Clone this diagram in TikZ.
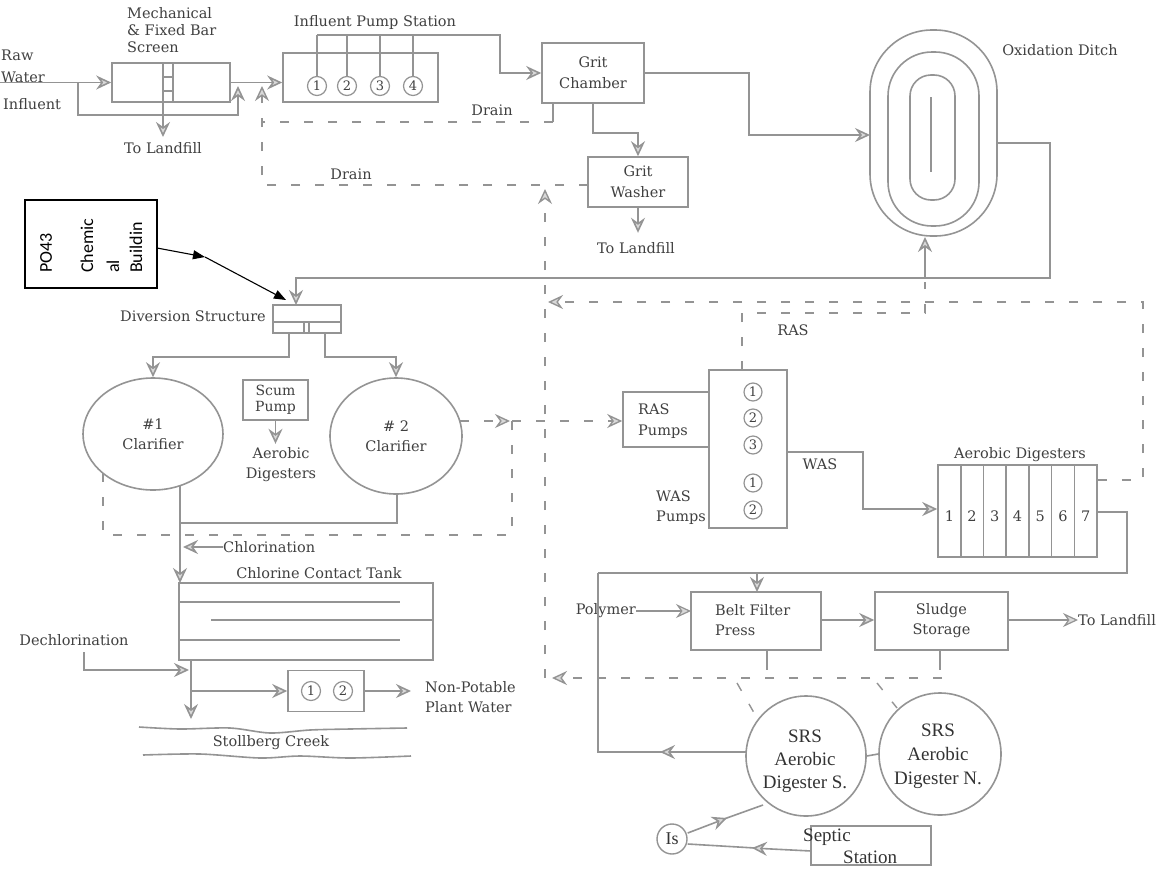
\documentclass[tikz,border=0pt]{standalone}
\usepackage{fontspec}
\setmainfont{DejaVu Serif}
\newfontfamily\srsfont{Liberation Serif}
\newfontfamily\calfont{Carlito}
\usetikzlibrary{arrows.meta,shapes.geometric}
\colorlet{ln}{black!42}
\colorlet{tx}{black!75}
\begin{document}
\begin{tikzpicture}[x=1pt,y=-1pt,
  every node/.style={text=tx, font=\fontsize{14.5}{20}\selectfont, inner sep=0pt},
  box/.style={draw=ln, line width=1.6pt, rectangle, inner sep=0pt},
  pipe/.style={draw=ln, line width=1.6pt},
  dpipe/.style={draw=ln, line width=1.4pt, dash pattern=on 9pt off 15pt},
  arr/.style={-{Stealth[length=15pt,width=14pt,inset=5pt,fill=black!15]}},
  num/.style={draw=ln, line width=1.2pt, circle, minimum size=19pt, inner sep=0pt, font=\fontsize{13}{15}\selectfont},
  srs/.style={font=\srsfont\fontsize{19}{23}\selectfont, text=black!80, align=center},
  potext/.style={rotate=90, anchor=west, text=black, font=\calfont\fontsize{18}{20}\selectfont},
]
\useasboundingbox (0,0) rectangle (1169,878);
\fill[white] (0,0) rectangle (1169,878);

% ---------- Raw water and bar screen ----------
\node[anchor=west] (raw1) at (1,55) {Raw};
\node[anchor=west] (raw2) at (1,77) {Water};
\node[anchor=west] (raw3) at (3,104) {Influent};
\node[box, minimum width=118pt, minimum height=39pt] (bar) at (171,82.5) {};
\draw[pipe] (163,63) -- (163,102) (173,63) -- (173,102) (163,77) -- (173,77) (163,91) -- (173,91);
\node[anchor=west, align=left, font=\fontsize{14.5}{17}\selectfont] (barlbl) at (127,30) {Mechanical\\\& Fixed Bar\\Screen};
\coordinate (rawin) at (-5,82.5);
\draw[pipe,arr] (rawin) -- (bar.west);
\coordinate (bp) at (78,82.5);
\draw[pipe,arr] (bp) -- (78,115) -- (238,115) -- (238,86);
\node (land1) at (163,148) {To Landfill};
\draw[pipe,arr] (bar.south -| 163,0) -- (163,137);

% ---------- Influent pump station ----------
\node[box, minimum width=155pt, minimum height=49pt] (pump) at (360.5,77.5) {};
\node (pumplbl) at (375,22) {Influent Pump Station};
\foreach \i/\x in {1/317,2/347,3/380,4/413}{
  \node[num] (p\i) at (\x,86) {\i};
  \draw[pipe] (p\i.north) -- (\x,35);
}
\draw[pipe,arr] (bar.east) -- (bar.east -| pump.west);

% ---------- Grit chamber / washer ----------
\node[box, minimum width=102pt, minimum height=60pt, align=center, font=\fontsize{14.5}{21}\selectfont] (grit) at (593,73) {Grit\\Chamber};
\draw[pipe,arr] (317,35) -- (500,35) |- (grit.west);
\node[box, minimum width=100pt, minimum height=50pt, align=center, font=\fontsize{14.5}{21}\selectfont] (washer) at (638,182) {Grit\\Washer};
\draw[pipe,arr] (grit.south) -- ++(0,29) -| (washer.north);
\node (land2) at (636,248) {To Landfill};
\draw[pipe,arr] (washer.south) -- ++(0,25);

% drains
\draw[pipe] (553,103) -- (553,122);
\draw[dpipe] (553,122) -- (262,122);
\coordinate (dr2) at (588,185);
\draw[dpipe,arr] (dr2) -- (262,185) -- (262,86);
\node (drain1) at (492,110) {Drain};
\node (drain2) at (351,174) {Drain};

% ---------- Oxidation ditch ----------
\draw[pipe, rounded corners=62pt] (870,30) rectangle (997,236);
\draw[pipe, rounded corners=44pt] (888,52) rectangle (979,226);
\draw[pipe, rounded corners=21pt] (910,75) rectangle (955,200);
\draw[pipe] (931,97) -- (931,172);
\node (ditchlbl) at (1060,50) {Oxidation Ditch};
\coordinate (ditchW) at (870,135);
\draw[pipe,arr] (grit.east) -- (749,73) |- (ditchW);

% ---------- PO43 chemical building ----------
\node[draw=black, line width=1.3pt, minimum width=132pt, minimum height=88pt] (po) at (91,244) {};
\node[potext] at (46,273) {PO43};
\node[potext] at (87,273) {Chemic};
\node[potext] at (113,273) {al};
\node[potext] at (136,273) {Buildin};
\coordinate (pomid) at (205,257);
\coordinate (pofin) at (286,300);
\draw[black, line width=1.1pt, -{Triangle[length=12pt,width=9pt]}] (157,248) -- (pomid);
\draw[black, line width=1.1pt, -{Triangle[length=12pt,width=9pt]}] (pomid) -- (pofin);

% ---------- Diversion structure ----------
\node[box, minimum width=68pt, minimum height=28pt] (div) at (307,319) {};
\draw[pipe] (273,322) -- (341,322) (304,322) -- (304,333) (309,322) -- (309,333);
\node[anchor=east] (divlbl) at (266,316) {Diversion Structure};
\coordinate (divin) at (296,305);
\draw[pipe,arr] (997,143) -- (1050,143) -- (1050,278) -- (296,278) -- (divin);
\draw[pipe,arr] (925,278) -- (925,237);

% clarifiers
\node[draw=ln, line width=1.6pt, ellipse, minimum width=140pt, minimum height=112pt, align=center] (c1) at (153,434) {\#1\\Clarifier};
\node[draw=ln, line width=1.6pt, ellipse, minimum width=132pt, minimum height=116pt, align=center] (c2) at (396,436) {\# 2\\Clarifier};
\draw[pipe,arr] (289,333) -- (289,357) -| (c1.north);
\draw[pipe,arr] (325,333) -- (325,357) -| (c2.north);
\node[box, minimum width=65pt, minimum height=40pt, align=center, font=\fontsize{14}{16}\selectfont] (scum) at (275.5,400) {Scum\\Pump};
\draw[pipe,arr] (scum.south) -- ++(0,23);
\node[align=center] (aerolbl) at (281,465) {Aerobic\\Digesters};

% clarifier effluent & chlorination
\draw[pipe] (397,494) -- (397,523) -- (180,523);
\node[box, minimum width=254pt, minimum height=77pt] (cct) at (306,621.5) {};
\draw[pipe,arr] (180,486) -- (180,583);
\node[anchor=west] (chl) at (223,547) {Chlorination};
\draw[pipe,arr] (chl.west) -- (183,547);
\draw[pipe] (179,602) -- (400,602) (211,620) -- (433,620) (179,640) -- (400,640);
\node (cctlbl) at (319,573) {Chlorine Contact Tank};
\node (dechl) at (74,640) {Dechlorination};
\draw[pipe,arr] (84,652) -- (84,670) -- (189,670);
\draw[pipe,arr] (191,660) -- (191,719);
\node[box, minimum width=76pt, minimum height=41pt] (npw) at (326,691) {};
\node[num] (n1) at (311,691) {1};
\node[num] (n2) at (343,691) {2};
\draw[pipe,arr] (191,691) -- (npw.west);
\draw[pipe,arr] (npw.east) -- (411,691);
\node[anchor=west, align=left] (npwlbl) at (425,697) {Non-Potable\\Plant Water};
\draw[pipe] plot[smooth] coordinates {(139,727) (180,729) (230,728) (270,733) (310,730) (350,729) (407,728)};
\draw[pipe] plot[smooth] coordinates {(143,755) (200,754) (260,758) (300,756) (350,758) (411,756)};
\node (creek) at (271,743) {Stollberg Creek};

% clarifier underflow (dashed)
\draw[dpipe] (103,473) -- (103,535) -- (512,535) -- (512,421);
\coordinate (c2r) at (460,421);
\draw[dpipe,arr] (c2r) -- (510,421);

% ---------- RAS / WAS pumps ----------
\node[box, minimum width=86pt, minimum height=55pt] (rasp) at (666,419.5) {};
\node[anchor=west, align=left, font=\fontsize{14.5}{21}\selectfont] (rasplbl) at (638,421) {RAS\\Pumps};
\node[box, minimum width=78pt, minimum height=158pt] (pumps) at (748,449) {};
\foreach \i/\y/\n in {a/392/1,b/418/2,c/445/3,d/483/1,e/510/2}
  \node[num, minimum size=18pt] (r\i) at (753,\y) {\n};
\node[anchor=east, align=left] (waslbl) at (706,508) {WAS\\Pumps};
\draw[dpipe,arr] (512,421) -- (rasp.west |- 0,421);

% digesters
\node[box, minimum width=159pt, minimum height=92pt] (dig) at (1017.5,511) {};
\foreach \k in {1,...,6} \draw[pipe] ({938+\k*22.714},465) -- ({938+\k*22.714},557);
\foreach \k in {1,...,7} \node at ({938+(\k-0.5)*22.714},516) {\k};
\node (diglbl) at (1020,455) {Aerobic Digesters};
\draw[pipe,arr] (pumps.east |- 0,452) -- (863,452) -- (863,509) -- (dig.west |- 0,509);
\node (was) at (820,464) {WAS};

% RAS return
\draw[dpipe] (742,370) -- (742,313) -- (925,313) -- (925,282);
\node (ras) at (793,330) {RAS};
\draw[dpipe,arr] (dig.east |- 0,480) -- (1143,480) -- (1143,302) -- (548,302);
\draw[dpipe,arr] (545,678) -- (545,189);

% ---------- Solids handling ----------
\node[box, minimum width=130pt, minimum height=58pt] (belt) at (756,621) {};
\node[anchor=west, align=left] (beltlbl) at (715,620) {Belt Filter\\Press};
\draw[pipe] (dig.east |- 0,512) -- (1127,512) -- (1127,573) -- (598,573);
\draw[pipe,arr] (757,573) -- (757,592);
\node[anchor=east] (poly) at (636,611) {Polymer};
\draw[pipe,arr, line width=1.2pt] (poly.east) -- (691,611);
\node[box, minimum width=133pt, minimum height=58pt, align=center] (sludge) at (941.5,621) {Sludge\\Storage};
\draw[pipe,arr] (821,620) -- (sludge.west |- 0,620);
\node[anchor=west] (land3) at (1078,620) {To Landfill};
\draw[pipe,arr, line width=1.2pt] (sludge.east |- 0,620) -- (land3.west);
\draw[pipe] (767,650) -- (767,670) (940,650) -- (940,670);
\draw[dpipe,arr] (942,678) -- (552,678);
\draw[dpipe] (737,683) -- (757,718) (877,683) -- (897,708);

% SRS digesters
\node[draw=ln, line width=1.6pt, circle, minimum size=120pt] (srsS) at (806,756) {};
\node[srs] (srsStxt) at (805,761) {SRS\\Aerobic\\Digester S.};
\node[draw=ln, line width=1.6pt, circle, minimum size=122pt] (srsN) at (940,754) {};
\node[srs, font=\srsfont\fontsize{19}{24}\selectfont] (srsNtxt) at (938,756) {SRS\\Aerobic\\Digester N.};
\draw[pipe] (srsS.east) -- (srsN.west);
\draw[pipe,arr] (746,752) -- (660,752);
\draw[pipe] (662,752) -- (598,752) -- (598,573);

% Is and septic station
\node[draw=ln, line width=1.4pt, circle, minimum size=30pt, font=\srsfont\fontsize{18}{20}\selectfont, text=black!80] (is) at (672,839) {Is};
\draw[pipe,arr] (is.east |- 0,833) -- (727,818);
\draw[pipe] (724,819) -- (763,805);
\node[box, minimum width=120pt, minimum height=39pt] (sep) at (871,845.5) {};
\node[anchor=west, font=\srsfont\fontsize{19}{22}\selectfont, text=black!80] (sep1) at (803,837) {Septic};
\node[anchor=west, font=\srsfont\fontsize{19}{22}\selectfont, text=black!80] (sep2) at (843,857) {Station};
\draw[pipe,arr] (811,851) -- (752,848);
\draw[pipe] (755,848) -- (is.east |- 0,844);
\end{tikzpicture}
\end{document}
